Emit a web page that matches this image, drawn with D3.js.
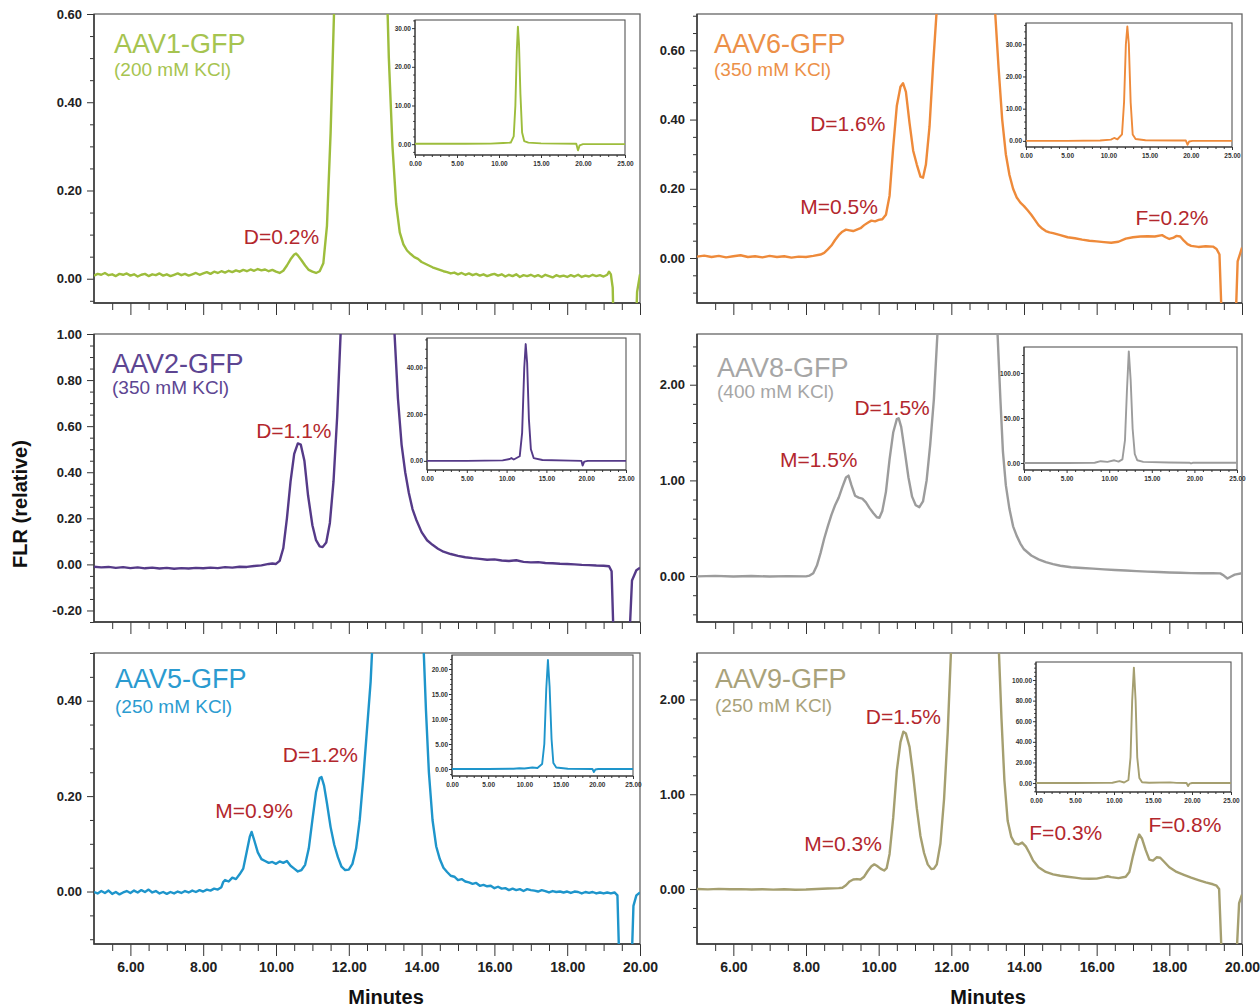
<!DOCTYPE html>
<html lang="en">
<head>
<meta charset="utf-8">
<title>AAV SEC-FLR traces</title>
<script src="https://cdn.jsdelivr.net/npm/d3@7"></script>
<style>
  body { margin: 0; background: #fff; }
  svg { font-family: "Liberation Sans", Arial, sans-serif; }
  .ax text { font-size: 13px; font-weight: bold; fill: #222; }
  .ax line, .ax path { stroke: #333; }
  .xl text { font-size: 14px; }
  .inax text { font-size: 6.5px; font-weight: bold; fill: #333; }
  .inax line, .inax path { stroke: #333; }
</style>
</head>
<body>
<svg id="chart" width="1260" height="1008"></svg>
<script>

// ---- data: [minutes, FLR] ----
var aav1Trace = [
[5.0,0.007],[5.1,0.011],[5.2,0.009],[5.3,0.013],[5.4,0.008],[5.5,0.010],[5.6,0.006],[5.7,0.011],[5.8,0.009],[5.9,0.012],
[6.0,0.007],[6.1,0.010],[6.2,0.005],[6.3,0.009],[6.4,0.011],[6.5,0.006],[6.6,0.010],[6.7,0.008],[6.8,0.012],[6.9,0.007],
[7.0,0.010],[7.1,0.006],[7.2,0.009],[7.3,0.012],[7.4,0.008],[7.5,0.011],[7.6,0.007],[7.7,0.010],[7.8,0.013],[7.9,0.009],
[8.0,0.012],[8.1,0.015],[8.2,0.011],[8.3,0.016],[8.4,0.013],[8.5,0.017],[8.6,0.014],[8.7,0.018],[8.8,0.015],[8.9,0.019],
[9.0,0.016],[9.1,0.020],[9.2,0.017],[9.3,0.021],[9.4,0.018],[9.5,0.022],[9.6,0.019],[9.7,0.021],[9.8,0.017],[9.9,0.020],
[10.0,0.016],[10.1,0.013],[10.2,0.018],[10.3,0.030],[10.4,0.044],[10.5,0.055],[10.55,0.057],[10.6,0.053],[10.7,0.042],[10.8,0.030],
[10.9,0.020],[11.0,0.016],[11.1,0.013],[11.2,0.017],[11.3,0.035],[11.4,0.12],[11.5,0.33],[11.6,0.62],[11.8,3],[12.3,30],
[12.8,3],[13.0,0.8],[13.1,0.5],[13.2,0.30],[13.3,0.17],[13.4,0.105],[13.5,0.078],[13.6,0.064],[13.7,0.056],[13.8,0.049],
[13.9,0.045],[14.0,0.038],[14.1,0.034],[14.2,0.030],[14.3,0.026],[14.4,0.023],[14.5,0.020],[14.6,0.017],[14.7,0.015],[14.8,0.012],
[14.9,0.014],[15.0,0.010],[15.1,0.013],[15.2,0.009],[15.3,0.012],[15.4,0.008],[15.5,0.011],[15.6,0.007],[15.7,0.010],[15.8,0.006],
[15.9,0.009],[16.0,0.011],[16.1,0.007],[16.2,0.010],[16.3,0.005],[16.4,0.009],[16.5,0.006],[16.6,0.010],[16.7,0.004],[16.8,0.008],
[16.9,0.006],[17.0,0.009],[17.1,0.005],[17.2,0.008],[17.3,0.004],[17.4,0.009],[17.5,0.006],[17.6,0.003],[17.7,0.008],[17.8,0.005],
[17.9,0.007],[18.0,0.004],[18.1,0.008],[18.2,0.005],[18.3,0.009],[18.4,0.004],[18.5,0.007],[18.6,0.005],[18.7,0.009],[18.8,0.006],
[18.9,0.008],[19.0,0.005],[19.1,0.009],[19.15,0.016],[19.2,0.010],[19.25,-0.02],[19.3,-0.2],[19.85,-0.2],[19.92,-0.03],[20.0,0.01]
];
var aav6Trace = [
[5.0,0.004],[5.2,0.007],[5.4,0.003],[5.6,0.006],[5.8,0.002],[6.0,0.005],[6.2,0.008],[6.4,0.003],[6.6,0.005],[6.8,0.002],
[7.0,0.006],[7.2,0.003],[7.4,0.005],[7.6,0.001],[7.8,0.004],[8.0,0.003],[8.2,0.006],[8.4,0.010],[8.5,0.015],[8.6,0.025],
[8.7,0.036],[8.8,0.052],[8.9,0.066],[9.0,0.076],[9.1,0.082],[9.2,0.080],[9.3,0.078],[9.4,0.082],[9.5,0.086],[9.6,0.095],
[9.7,0.102],[9.8,0.108],[9.9,0.106],[10.0,0.110],[10.1,0.112],[10.2,0.125],[10.3,0.18],[10.4,0.32],[10.5,0.44],[10.6,0.495],
[10.67,0.505],[10.75,0.48],[10.85,0.39],[10.95,0.31],[11.05,0.27],[11.15,0.235],[11.22,0.232],[11.3,0.27],[11.4,0.38],[11.5,0.56],
[11.6,0.72],[11.9,5],[12.3,35],[12.8,5],[13.2,0.72],[13.3,0.55],[13.4,0.40],[13.5,0.30],[13.6,0.24],[13.7,0.20],
[13.8,0.175],[13.9,0.16],[14.0,0.15],[14.1,0.138],[14.2,0.125],[14.3,0.11],[14.4,0.095],[14.5,0.085],[14.6,0.078],[14.7,0.074],
[14.8,0.072],[15.0,0.066],[15.2,0.060],[15.4,0.057],[15.6,0.053],[15.8,0.050],[16.0,0.048],[16.2,0.046],[16.4,0.044],[16.6,0.047],
[16.8,0.056],[17.0,0.060],[17.2,0.062],[17.4,0.063],[17.6,0.062],[17.8,0.066],[17.9,0.060],[18.0,0.055],[18.1,0.058],[18.2,0.064],
[18.3,0.062],[18.4,0.050],[18.5,0.040],[18.6,0.035],[18.8,0.032],[19.0,0.034],[19.2,0.033],[19.3,0.026],[19.38,0.01],[19.45,-0.2],
[19.82,-0.2],[19.88,-0.01],[20.0,0.03]
];
var aav2Trace = [
[5.0,-0.010],[5.2,-0.013],[5.4,-0.011],[5.6,-0.015],[5.8,-0.012],[6.0,-0.016],[6.2,-0.013],[6.4,-0.017],[6.6,-0.014],[6.8,-0.018],
[7.0,-0.015],[7.2,-0.019],[7.4,-0.016],[7.6,-0.018],[7.8,-0.015],[8.0,-0.017],[8.2,-0.014],[8.4,-0.016],[8.6,-0.012],[8.8,-0.014],
[9.0,-0.010],[9.2,-0.011],[9.4,-0.007],[9.6,-0.004],[9.8,0.002],[9.9,0.004],[10.0,0.002],[10.1,0.015],[10.2,0.07],[10.3,0.20],
[10.4,0.36],[10.5,0.48],[10.6,0.525],[10.68,0.52],[10.78,0.45],[10.88,0.30],[11.0,0.17],[11.1,0.105],[11.2,0.078],[11.28,0.075],
[11.38,0.095],[11.48,0.18],[11.58,0.36],[11.68,0.64],[11.78,1.02],[12.1,10],[12.5,50],[12.9,10],[13.25,1.02],[13.35,0.72],
[13.45,0.52],[13.55,0.40],[13.65,0.31],[13.75,0.24],[13.85,0.195],[14.0,0.14],[14.15,0.105],[14.3,0.085],[14.45,0.068],[14.6,0.055],
[14.8,0.045],[15.0,0.037],[15.2,0.031],[15.4,0.027],[15.6,0.024],[15.8,0.020],[16.0,0.022],[16.2,0.017],[16.4,0.015],[16.6,0.018],
[16.8,0.011],[17.0,0.009],[17.2,0.010],[17.4,0.006],[17.6,0.005],[17.8,0.003],[18.0,0.002],[18.2,0.000],[18.4,-0.002],[18.6,-0.003],
[18.8,-0.005],[19.0,-0.006],[19.15,-0.008],[19.22,-0.03],[19.28,-0.35],[19.7,-0.35],[19.78,-0.07],[19.9,-0.025],[20.0,-0.015]
];
var aav8Trace = [
[5.0,-0.003],[5.5,0.002],[6.0,-0.005],[6.5,0.000],[7.0,-0.004],[7.5,-0.001],[8.0,-0.003],[8.1,0.005],[8.2,0.03],[8.3,0.11],
[8.4,0.24],[8.5,0.39],[8.6,0.52],[8.7,0.64],[8.8,0.74],[8.9,0.82],[9.0,0.93],[9.1,1.03],[9.17,1.05],[9.25,0.95],
[9.35,0.84],[9.45,0.82],[9.55,0.81],[9.65,0.77],[9.75,0.71],[9.85,0.66],[9.95,0.615],[10.02,0.61],[10.1,0.68],[10.2,0.88],
[10.3,1.22],[10.4,1.50],[10.5,1.64],[10.55,1.65],[10.62,1.56],[10.72,1.30],[10.82,1.03],[10.92,0.83],[11.02,0.74],[11.12,0.72],
[11.22,0.78],[11.32,1.00],[11.42,1.38],[11.52,1.85],[11.62,2.55],[12.0,30],[12.4,125],[12.9,30],[13.27,2.55],[13.35,1.85],
[13.42,1.30],[13.5,0.95],[13.6,0.70],[13.7,0.52],[13.8,0.42],[13.9,0.34],[14.0,0.28],[14.2,0.215],[14.4,0.175],[14.6,0.145],
[14.8,0.125],[15.0,0.108],[15.3,0.092],[15.6,0.084],[15.9,0.078],[16.2,0.070],[16.5,0.064],[16.8,0.058],[17.1,0.052],[17.4,0.047],
[17.7,0.042],[18.0,0.038],[18.3,0.034],[18.6,0.031],[18.9,0.030],[19.2,0.029],[19.4,0.028],[19.5,0.005],[19.6,-0.025],[19.7,-0.005],
[19.8,0.015],[20.0,0.030]
];
var aav5Trace = [
[5.0,-0.001],[5.1,-0.004],[5.2,0.001],[5.3,-0.003],[5.4,0.002],[5.5,-0.005],[5.6,-0.001],[5.7,-0.006],[5.8,-0.002],[5.9,0.001],
[6.0,-0.003],[6.1,0.002],[6.2,-0.002],[6.3,0.003],[6.4,-0.001],[6.5,0.004],[6.6,-0.002],[6.7,0.001],[6.8,-0.004],[6.9,-0.001],
[7.0,-0.005],[7.1,-0.001],[7.2,-0.004],[7.3,0.000],[7.4,-0.003],[7.5,0.001],[7.6,-0.002],[7.7,0.002],[7.8,-0.001],[7.9,0.003],
[8.0,0.000],[8.1,0.004],[8.2,0.002],[8.3,0.006],[8.4,0.004],[8.5,0.009],[8.55,0.020],[8.6,0.024],[8.7,0.021],[8.8,0.029],
[8.9,0.026],[9.0,0.036],[9.1,0.048],[9.2,0.085],[9.28,0.115],[9.33,0.125],[9.4,0.108],[9.5,0.082],[9.6,0.068],[9.7,0.064],
[9.8,0.060],[9.9,0.062],[10.0,0.058],[10.1,0.063],[10.2,0.060],[10.3,0.064],[10.4,0.054],[10.5,0.048],[10.6,0.042],[10.7,0.045],
[10.8,0.056],[10.9,0.090],[11.0,0.150],[11.1,0.208],[11.2,0.238],[11.25,0.240],[11.32,0.222],[11.4,0.185],[11.5,0.135],[11.6,0.098],
[11.7,0.072],[11.8,0.052],[11.9,0.045],[12.0,0.046],[12.1,0.058],[12.2,0.090],[12.3,0.15],[12.4,0.24],[12.5,0.34],[12.6,0.44],
[12.7,0.60],[13.0,5],[13.3,21.8],[13.7,5],[14.05,0.52],[14.12,0.38],[14.2,0.25],[14.3,0.15],[14.4,0.095],[14.5,0.068],
[14.6,0.050],[14.7,0.041],[14.8,0.033],[14.9,0.031],[15.0,0.024],[15.1,0.026],[15.2,0.021],[15.3,0.019],[15.4,0.016],[15.5,0.018],
[15.6,0.012],[15.7,0.014],[15.8,0.011],[15.9,0.012],[16.0,0.007],[16.1,0.010],[16.2,0.006],[16.3,0.007],[16.4,0.003],[16.5,0.006],
[16.6,0.003],[16.7,0.005],[16.8,0.001],[16.9,0.005],[17.0,0.003],[17.1,0.002],[17.2,0.000],[17.3,0.003],[17.4,0.001],[17.5,-0.002],
[17.6,0.001],[17.7,-0.001],[17.8,0.000],[17.9,-0.002],[18.0,0.000],[18.1,-0.003],[18.2,0.000],[18.3,-0.001],[18.4,-0.004],[18.5,-0.001],
[18.6,-0.003],[18.7,-0.001],[18.8,-0.004],[18.9,-0.002],[19.0,-0.004],[19.1,-0.002],[19.2,-0.004],[19.3,-0.002],[19.38,-0.008],[19.45,-0.2],
[19.75,-0.2],[19.82,-0.03],[19.9,-0.008],[20.0,-0.002]
];
var aav9Trace = [
[5.0,0.000],[5.3,-0.004],[5.6,0.002],[5.9,-0.003],[6.2,-0.001],[6.5,-0.005],[6.8,-0.002],[7.1,-0.006],[7.4,-0.003],[7.7,-0.007],
[8.0,-0.005],[8.3,0.000],[8.6,0.006],[8.9,0.010],[9.0,0.014],[9.1,0.04],[9.2,0.08],[9.3,0.10],[9.4,0.105],[9.5,0.10],
[9.6,0.13],[9.7,0.19],[9.8,0.24],[9.88,0.26],[9.95,0.245],[10.05,0.215],[10.15,0.195],[10.22,0.22],[10.3,0.37],[10.4,0.75],
[10.5,1.25],[10.6,1.55],[10.68,1.66],[10.75,1.64],[10.85,1.50],[10.95,1.20],[11.05,0.85],[11.15,0.56],[11.25,0.38],[11.35,0.26],
[11.45,0.21],[11.52,0.215],[11.6,0.26],[11.7,0.48],[11.8,0.95],[11.9,1.65],[12.0,2.6],[12.5,112],[13.0,20],[13.3,2.6],
[13.38,1.8],[13.46,1.15],[13.55,0.72],[13.65,0.55],[13.75,0.48],[13.85,0.47],[13.95,0.49],[14.05,0.45],[14.15,0.38],[14.25,0.30],
[14.4,0.23],[14.6,0.18],[14.8,0.155],[15.0,0.14],[15.2,0.13],[15.4,0.12],[15.6,0.11],[15.8,0.108],[16.0,0.11],[16.2,0.125],
[16.3,0.135],[16.4,0.125],[16.6,0.115],[16.8,0.13],[16.9,0.18],[17.0,0.35],[17.1,0.50],[17.17,0.575],[17.25,0.53],[17.35,0.41],
[17.45,0.31],[17.55,0.30],[17.65,0.335],[17.75,0.33],[17.85,0.29],[18.0,0.23],[18.2,0.18],[18.4,0.15],[18.6,0.12],[18.8,0.095],
[19.0,0.07],[19.2,0.05],[19.3,0.035],[19.37,0.0],[19.44,-0.7],[19.85,-0.7],[19.92,-0.15],[20.0,-0.06]
];

// full 0-25 min runs shown in the insets
var aav1Inset = [[0,0.1],[3,0.1],[6,0.1],[9,0.15],[10.5,0.3],[11.4,0.4],[11.75,2],[11.95,10],[12.12,24],[12.25,30.4],[12.38,26],[12.55,13],[12.75,3],[13.0,0.8],[13.5,0.4],[15,0.2],[19.2,0.1],[19.4,-1.6],[19.6,-0.3],[20,0],[25,0]];
var aav6Inset = [[0,0],[5,0],[9,0.1],[10.3,0.4],[10.7,0.9],[11.1,0.5],[11.65,2],[11.9,12],[12.12,30],[12.3,35.5],[12.48,30],[12.7,12],[12.95,2],[13.3,0.6],[14.5,0.2],[18,0.1],[19.4,0.1],[19.6,-1.2],[19.8,-0.2],[20.2,0],[25,0]];
var aav2Inset = [[0,0],[5,0],[9.5,0.2],[10.4,0.8],[10.6,1.2],[10.9,0.6],[11.65,2],[11.95,12],[12.22,40],[12.4,50],[12.58,42],[12.8,18],[13.05,5],[13.4,1.2],[14.5,0.4],[18,0.1],[19.4,0],[19.55,-2],[19.75,-0.3],[20.2,0],[25,0]];
var aav8Inset = [[0,0],[5,0],[8.3,0.3],[9.0,2],[9.8,1.2],[10.6,3],[11.1,1.5],[11.55,4],[11.85,25],[12.08,80],[12.3,124],[12.52,92],[12.75,38],[13.0,10],[13.3,3],[14,1.2],[17,0.5],[19.4,0.3],[19.6,-0.5],[19.8,0.2],[25,0.2]];
var aav5Inset = [[0,0],[5,0],[8.5,0.05],[9.3,0.15],[10,0.1],[11.1,0.3],[11.8,0.2],[12.45,1],[12.75,5],[13.02,16],[13.25,21.8],[13.48,16.5],[13.75,6],[14.0,1.2],[14.4,0.3],[16,0.05],[19.4,0],[19.6,-0.6],[19.8,-0.1],[20.2,0],[25,0]];
var aav9Inset = [[0,0],[5,0],[9,0.2],[9.8,0.3],[10.7,1.8],[11.3,0.5],[11.85,3],[12.12,25],[12.33,80],[12.55,112],[12.77,80],[12.98,25],[13.25,5],[13.6,0.8],[14.5,0.3],[17.2,0.6],[18,0.2],[19.3,0],[19.5,-3],[19.7,-0.5],[20,0],[25,0]];

// peak labels: [text, minutes, FLR]
var aav1Notes = [["D=0.2%",10.15,0.095]];
var aav6Notes = [["D=1.6%",9.15,0.39],["M=0.5%",8.91,0.148],["F=0.2%",18.07,0.116]];
var aav2Notes = [["D=1.1%",10.49,0.581]];
var aav8Notes = [["D=1.5%",10.37,1.76],["M=1.5%",8.35,1.223]];
var aav5Notes = [["D=1.2%",11.22,0.287],["M=0.9%",9.4,0.169]];
var aav9Notes = [["D=1.5%",10.68,1.82],["M=0.3%",9.02,0.485],["F=0.3%",15.15,0.596],["F=0.8%",18.43,0.678]];

var xMajor = [6, 8, 10, 12, 14, 16, 18, 20];
var inXMajor = [0, 5, 10, 15, 20, 25];

// layout of the six panels
var panels = [
  {name:"AAV1-GFP", salt:"(200 mM KCl)", trace:aav1Trace, inset:aav1Inset, notes:aav1Notes,
   yDom:[-0.055,0.6], yMajor:[0,0.2,0.4,0.6], yStep:0.05,
   inDom:[-2.8,32.1], inMajor:[0,10,20,30], inStep:2,
   box:[94,640,14,303], inBox:[415,625,20,155], title:[114,53,76], xLab:false,
   color:"#9dbd3c", tcolor:"#a6c450"},
  {name:"AAV6-GFP", salt:"(350 mM KCl)", trace:aav6Trace, inset:aav6Inset, notes:aav6Notes,
   yDom:[-0.13,0.705], yMajor:[0,0.2,0.4,0.6], yStep:0.05,
   inDom:[-1.9,36.6], inMajor:[0,10,20,30], inStep:2,
   box:[697,1242,14,303], inBox:[1026,1232,23,147], title:[714,53,76], xLab:false,
   color:"#ee8a3a", tcolor:"#ec9048"},
  {name:"AAV2-GFP", salt:"(350 mM KCl)", trace:aav2Trace, inset:aav2Inset, notes:aav2Notes,
   yDom:[-0.25,1.0], yMajor:[-0.2,0,0.2,0.4,0.6,0.8,1.0], yStep:0.05,
   inDom:[-3.9,52.6], inMajor:[0,20,40], inStep:4,
   box:[94,640,334,622], inBox:[427,626,338,470], title:[112,373,394], xLab:false,
   color:"#553a88", tcolor:"#5d4592"},
  {name:"AAV8-GFP", salt:"(400 mM KCl)", trace:aav8Trace, inset:aav8Inset, notes:aav8Notes,
   yDom:[-0.48,2.53], yMajor:[0,1,2], yStep:0.2,
   inDom:[-7.8,128.9], inMajor:[0,50,100], inStep:10,
   box:[697,1242,334,622], inBox:[1024,1237,347,470], title:[717,377,398], xLab:false,
   color:"#9c9c9c", tcolor:"#a6a6a6"},
  {name:"AAV5-GFP", salt:"(250 mM KCl)", trace:aav5Trace, inset:aav5Inset, notes:aav5Notes,
   yDom:[-0.11,0.5], yMajor:[0,0.2,0.4], yStep:0.05,
   inDom:[-1.4,22.8], inMajor:[0,5,10,15,20], inStep:1,
   box:[94,640,653,944], inBox:[452,633,655,776], title:[115,688,713], xLab:true,
   color:"#1e95cb", tcolor:"#2b9bd0"},
  {name:"AAV9-GFP", salt:"(250 mM KCl)", trace:aav9Trace, inset:aav9Inset, notes:aav9Notes,
   yDom:[-0.58,2.49], yMajor:[0,1,2], yStep:0.2,
   inDom:[-8.7,117.5], inMajor:[0,20,40,60,80,100], inStep:4,
   box:[697,1242,653,944], inBox:[1036,1231,662,792], title:[715,688,712], xLab:true,
   color:"#a59f70", tcolor:"#a9a27a"}
];

var svg = d3.select("#chart");
var fmt = function(d) { return d.toFixed(2); };

function minorTicks(dom, step, major) {
  var out = [];
  var k0 = Math.ceil(dom[0] / step - 1e-9), k1 = Math.floor(dom[1] / step + 1e-9);
  for (var k = k0; k <= k1; k++) {
    var v = +(k * step).toFixed(6);
    if (major.indexOf(v) < 0) out.push(v);
  }
  return out;
}

function clean(g) {
  g.attr("font-family", null).attr("font-size", null);
  g.select(".domain").remove();
}

panels.forEach(function(p, i) {
  var b = p.box;
  var x = d3.scaleLinear().domain([5, 20]).range([b[0], b[1]]);
  var y = d3.scaleLinear().domain(p.yDom).range([b[3], b[2]]);

  svg.append("clipPath").attr("id", "clip" + i)
    .append("rect").attr("x", b[0]).attr("y", b[2])
    .attr("width", b[1] - b[0]).attr("height", b[3] - b[2]);

  // y axis
  svg.append("g").attr("class", "ax").attr("transform", "translate(" + b[0] + ",0)")
    .call(d3.axisLeft(y).tickValues(p.yMajor).tickFormat(fmt).tickSize(7).tickPadding(5))
    .call(clean);
  svg.append("g").attr("class", "ax").attr("transform", "translate(" + b[0] + ",0)")
    .call(d3.axisLeft(y).tickValues(minorTicks(p.yDom, p.yStep, p.yMajor)).tickFormat("").tickSize(4))
    .call(clean);

  // x axis
  svg.append("g").attr("class", "ax xl").attr("transform", "translate(0," + b[3] + ")")
    .call(d3.axisBottom(x).tickValues(xMajor).tickFormat(p.xLab ? fmt : "").tickSize(12).tickPadding(6))
    .call(clean);
  svg.append("g").attr("class", "ax").attr("transform", "translate(0," + b[3] + ")")
    .call(d3.axisBottom(x).tickValues(minorTicks([5.5, 20], 0.5, xMajor)).tickFormat("").tickSize(7))
    .call(clean);

  // frame
  svg.append("rect").attr("x", b[0]).attr("y", b[2])
    .attr("width", b[1] - b[0]).attr("height", b[3] - b[2])
    .attr("fill", "none").attr("stroke", "#666").attr("stroke-width", 1.3);
  svg.append("path")
    .attr("d", "M" + b[0] + "," + b[2] + "V" + b[3] + "H" + b[1])
    .attr("fill", "none").attr("stroke", "#333").attr("stroke-width", 1.4);

  // trace
  var line = d3.line().x(function(d) { return x(d[0]); }).y(function(d) { return y(d[1]); });
  svg.append("path").datum(p.trace)
    .attr("clip-path", "url(#clip" + i + ")")
    .attr("d", line)
    .attr("fill", "none").attr("stroke", p.color).attr("stroke-width", 2.4)
    .attr("stroke-linejoin", "round");

  // titles
  svg.append("text").attr("x", p.title[0]).attr("y", p.title[1])
    .attr("font-size", 27).attr("fill", p.tcolor).text(p.name);
  svg.append("text").attr("x", p.title[0]).attr("y", p.title[2])
    .attr("font-size", 19).attr("fill", p.tcolor).text(p.salt);

  // peak labels
  svg.selectAll(null).data(p.notes).enter().append("text")
    .attr("x", function(d) { return x(d[1]); })
    .attr("y", function(d) { return y(d[2]); })
    .attr("text-anchor", "middle").attr("dominant-baseline", "central")
    .attr("font-size", 21).attr("fill", "#b3272d")
    .text(function(d) { return d[0]; });

  // inset
  var ib = p.inBox;
  var ix = d3.scaleLinear().domain([0, 25]).range([ib[0], ib[1]]);
  var iy = d3.scaleLinear().domain(p.inDom).range([ib[3], ib[2]]);
  svg.append("clipPath").attr("id", "iclip" + i)
    .append("rect").attr("x", ib[0]).attr("y", ib[2])
    .attr("width", ib[1] - ib[0]).attr("height", ib[3] - ib[2]);
  svg.append("rect").attr("x", ib[0]).attr("y", ib[2])
    .attr("width", ib[1] - ib[0]).attr("height", ib[3] - ib[2])
    .attr("fill", "#fff").attr("stroke", "#555").attr("stroke-width", 1.1);
  svg.append("g").attr("class", "inax").attr("transform", "translate(" + ib[0] + ",0)")
    .call(d3.axisLeft(iy).tickValues(p.inMajor).tickFormat(fmt).tickSize(3).tickPadding(1))
    .call(clean);
  svg.append("g").attr("class", "inax").attr("transform", "translate(" + ib[0] + ",0)")
    .call(d3.axisLeft(iy).tickValues(minorTicks(p.inDom, p.inStep, p.inMajor)).tickFormat("").tickSize(1.8))
    .call(clean);
  svg.append("g").attr("class", "inax").attr("transform", "translate(0," + ib[3] + ")")
    .call(d3.axisBottom(ix).tickValues(inXMajor).tickFormat(fmt).tickSize(3).tickPadding(3))
    .call(clean);
  svg.append("g").attr("class", "inax").attr("transform", "translate(0," + ib[3] + ")")
    .call(d3.axisBottom(ix).tickValues(minorTicks([0, 25], 1, inXMajor)).tickFormat("").tickSize(2))
    .call(clean);
  svg.append("path")
    .attr("d", "M" + ib[0] + "," + ib[2] + "V" + ib[3] + "H" + ib[1])
    .attr("fill", "none").attr("stroke", "#333").attr("stroke-width", 1);
  var iline = d3.line().x(function(d) { return ix(d[0]); }).y(function(d) { return iy(d[1]); });
  svg.append("path").datum(p.inset)
    .attr("clip-path", "url(#iclip" + i + ")")
    .attr("d", iline)
    .attr("fill", "none").attr("stroke", p.color).attr("stroke-width", 1.9)
    .attr("stroke-linejoin", "round");
});

// axis titles
svg.append("text").attr("transform", "translate(27,504) rotate(-90)")
  .attr("text-anchor", "middle").attr("font-size", 20).attr("font-weight", "bold")
  .attr("fill", "#111").text("FLR (relative)");
svg.append("text").attr("x", 386).attr("y", 1004).attr("text-anchor", "middle")
  .attr("font-size", 20).attr("font-weight", "bold").attr("fill", "#111").text("Minutes");
svg.append("text").attr("x", 988).attr("y", 1004).attr("text-anchor", "middle")
  .attr("font-size", 20).attr("font-weight", "bold").attr("fill", "#111").text("Minutes");

</script>
</body>
</html>
